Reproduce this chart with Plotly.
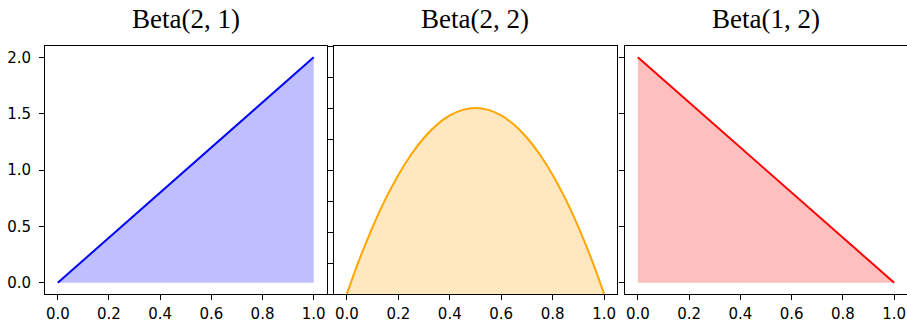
import plotly.graph_objects as go

# Data
titles = ["Beta(2, 1)", "Beta(2, 2)", "Beta(1, 2)"]
x_b21 = [0.0, 1.0]
y_b21 = [0.0, 2.0]
x_b22 = [0.0, 0.05, 0.1, 0.15, 0.2, 0.25, 0.3, 0.35, 0.4, 0.45, 0.5,
         0.55, 0.6, 0.65, 0.7, 0.75, 0.8, 0.85, 0.9, 0.95, 1.0]
y_b22 = [0.0, 0.285, 0.54, 0.765, 0.96, 1.125, 1.26, 1.365, 1.44, 1.485, 1.50,
         1.485, 1.44, 1.365, 1.26, 1.125, 0.96, 0.765, 0.54, 0.285, 0.0]
x_b12 = [0.0, 1.0]
y_b12 = [2.0, 0.0]
line_colors = ["blue", "orange", "red"]
fill_colors = ["rgba(0,0,255,0.25)", "rgba(255,165,0,0.25)", "rgba(255,0,0,0.25)"]
x_ticks = [0.0, 0.2, 0.4, 0.6, 0.8, 1.0]
y_ticks_outer = [0.0, 0.5, 1.0, 1.5, 2.0]
y_ticks_mid = [0.0, 0.25, 0.5, 0.75, 1.0, 1.25, 1.5, 1.75, 2.0]

W, H = 907, 323
ml, mr, mt, mb = 45, 0, 46, 29
pw = W - ml - mr
ph = H - mt - mb

def dom(a, b):
    return [max(0.0, (a - ml) / pw), min(1.0, (b - ml) / pw)]

domains = [dom(45, 326.5), dom(334, 617), dom(625, 907)]

fig = go.Figure()
series = [(x_b21, y_b21), (x_b22, y_b22), (x_b12, y_b12)]
for i, (xs, ys) in enumerate(series):
    sfx = "" if i == 0 else str(i + 1)
    fig.add_trace(go.Scatter(
        x=xs, y=ys, mode="lines",
        line=dict(color=line_colors[i], width=2, shape="spline" if i == 1 else "linear"),
        fill="tozeroy", fillcolor=fill_colors[i],
        xaxis="x" + sfx, yaxis="y" + sfx, showlegend=False, hoverinfo="skip"))

tickfont = dict(family="DejaVu Sans", size=15, color="black")
common = dict(showline=True, mirror=True, linecolor="black", linewidth=1,
              ticks="outside", ticklen=5, tickwidth=1, tickcolor="black",
              showgrid=False, zeroline=False, tickfont=tickfont)

layout = dict(width=W, height=H, margin=dict(l=ml, r=mr, t=mt, b=mb),
              plot_bgcolor="white", paper_bgcolor="white", showlegend=False)
for i in range(3):
    sfx = "" if i == 0 else str(i + 1)
    layout["xaxis" + sfx] = dict(common, domain=domains[i], range=[-0.05, 1.05],
                                 tickvals=x_ticks, tickformat=".1f",
                                 ticklabelstandoff=1,
                                 anchor="y" + sfx, automargin=False)
    if i == 1:
        yr = [0.0, 2.0]
        yt = y_ticks_mid
    else:
        yr = [-0.1, 2.1]
        yt = y_ticks_outer
    layout["yaxis" + sfx] = dict(common, domain=[0, 1], range=yr, tickvals=yt,
                                 tickformat=".1f", showticklabels=(i == 0),
                                 ticklabelstandoff=5,
                                 anchor="x" + sfx, automargin=False)

fig.update_layout(**layout)

for i in range(3):
    cx = (domains[i][0] + domains[i][1]) / 2
    fig.add_annotation(x=cx, y=(H - mb - 19) / ph, xref="paper", yref="paper",
                       text=titles[i], showarrow=False, xanchor="center", yanchor="middle",
                       font=dict(family="Liberation Serif", size=27, color="black"))

fig.write_html("out.html")
